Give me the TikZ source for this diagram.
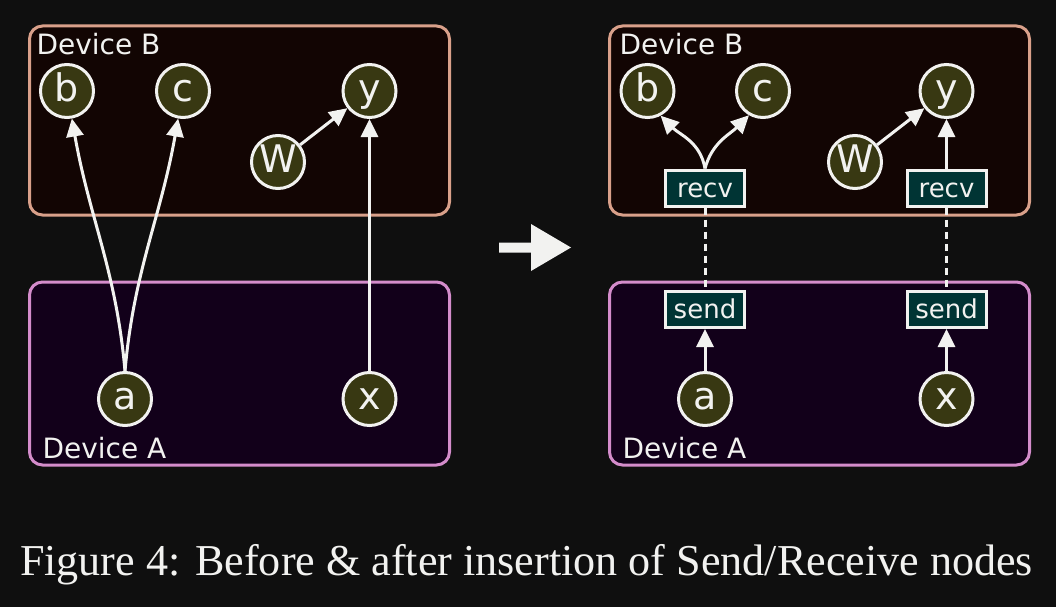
\documentclass[tikz,border=0pt]{standalone}
\usepackage{fontspec}
\setmainfont{DejaVu Sans}
\newfontfamily\capfont{Liberation Serif}
\usetikzlibrary{arrows.meta, positioning}
\definecolor{cbg}{HTML}{0F0F0F}
\definecolor{cfg}{HTML}{F2F2F0}
\definecolor{cdevb}{HTML}{D9A08A}
\definecolor{cdeva}{HTML}{D48CCB}
\definecolor{cfillb}{HTML}{120503}
\definecolor{cfilla}{HTML}{12001A}
\definecolor{cop}{HTML}{383812}
\definecolor{cxfer}{HTML}{003434}
\tikzset{
  every picture/.style={line width=3pt},
  dev/.style={draw=#1, rounded corners=13pt, minimum width=420pt, inner sep=0pt},
  devlabel/.style={font=\fontsize{28}{30}\selectfont, text=cfg, inner sep=0pt, anchor=base west},
  op/.style={circle, draw=cfg, fill=cop, text=cfg, minimum size=53pt, inner sep=0pt, font=\fontsize{38}{40}\selectfont, text height=29pt, text depth=7.5pt},
  xfer/.style={draw=cfg, fill=cxfer, text=cfg, minimum width=79pt, minimum height=36pt, inner sep=0pt, font=\fontsize{26}{28}\selectfont, text height=18pt, text depth=0pt},
  arrow/.style={-{Triangle[length=18pt, width=17pt]}, draw=cfg},
  link/.style={draw=cfg, dash pattern=on 7pt off 5pt},
}

\begin{document}
\begin{tikzpicture}[x=1pt, y=1pt]
  \fill[cbg] (0,0) rectangle (1056,-607);
  \useasboundingbox (0,0) rectangle (1056,-607);
  % before
  \node[dev=cdevb, fill=cfillb, minimum height=189pt] (lbox) at (239.5,-120.5) {};
  \node[dev=cdeva, fill=cfilla, minimum height=183pt] (abox) at (239.5,-373.5) {};
  \node[devlabel] (lbl) at (35,-55) {Device B};
  \node[devlabel] (alb) at (41,-458) {Device A};
  \node[op] (lb) at (67,-91) {b};
  \node[op] (lc) at (183,-91) {c};
  \node[op] (ly) at (369.5,-91) {y};
  \node[op] (lw) at (278,-162) {W};
  \node[op] (la) at (125,-399) {a};
  \node[op] (lx) at (369.5,-399) {x};
  \draw[arrow] (la.north) to[out=95, in=-80] (lb.-80);
  \draw[arrow] (la.north) to[out=85, in=-100] (lc.-100);
  \draw[arrow] (lx) -- (ly); \draw[arrow] (lw) -- (ly);
  \fill[cfg] (499,-242.5) -- (531,-242.5) -- (531,-224) -- (571,-247.5) -- (531,-271) -- (531,-252.5) -- (499,-252.5) -- cycle;
  % after
  \node[dev=cdevb, fill=cfillb, minimum height=189pt] (rbox) at (819.5,-120.5) {};
  \node[dev=cdeva, fill=cfilla, minimum height=183pt] (sbox) at (819.5,-373.5) {};
  \node[devlabel] (rbl) at (618,-55) {Device B};
  \node[devlabel] (slb) at (621,-458) {Device A};
  \node[op] (rb) at (647.5,-91) {b};
  \node[op] (rc) at (763,-91) {c};
  \node[op] (ry) at (946.5,-91) {y};
  \node[op] (rw) at (855,-162) {W};
  \node[op] (ra) at (705,-399) {a};
  \node[op] (rx) at (946.5,-399) {x};
  \node[xfer] (recv1) at (705,-188) {recv};
  \node[xfer] (recv2) at (946.5,-188) {recv};
  \node[xfer, above=42pt of ra] (send1) {send};
  \node[xfer, above=42pt of rx] (send2) {send};
  \draw[link] (recv1) -- (send1); \draw[link] (recv2) -- (send2);
  \draw[arrow] (ra) -- (send1); \draw[arrow] (rx) -- (send2);
  \draw[arrow] (recv1.north) to[out=100, in=-45] (rb.-62);
  \draw[arrow] (recv1.north) to[out=75, in=-135] (rc.-120);
  \draw[arrow] (recv2) -- (ry); \draw[arrow] (rw) -- (ry);
  \node[font=\capfont\fontsize{44.1}{48}\selectfont, text=cfg, inner sep=0pt, anchor=base] (cap) at (526.5,-575) {Figure 4: Before \& after insertion of Send/Receive nodes};
\end{tikzpicture}
\end{document}
